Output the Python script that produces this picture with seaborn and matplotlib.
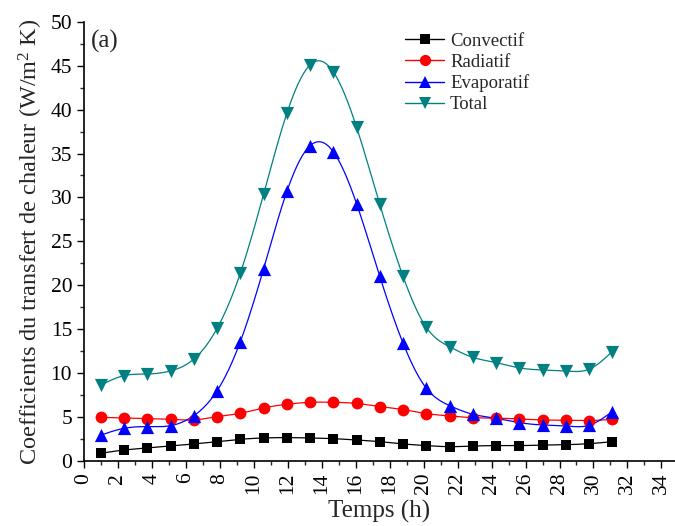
import numpy as np
import pandas as pd
import matplotlib
matplotlib.use("Agg")
import matplotlib.pyplot as plt
from matplotlib.lines import Line2D
from matplotlib.ticker import MultipleLocator
import seaborn as sns

# Hourly heat-transfer coefficients (W/m^2 K)
hours = [1.00, 2.37, 3.74, 5.10, 6.47, 7.84, 9.21, 10.58, 11.95, 13.32, 14.68, 16.05,
         17.42, 18.79, 20.16, 21.53, 22.89, 24.26, 25.63, 27.00, 28.37, 29.74, 31.10]
convectif = [0.88, 1.25, 1.48, 1.71, 1.94, 2.20, 2.47, 2.62, 2.66, 2.62, 2.54, 2.39,
             2.20, 1.94, 1.75, 1.63, 1.70, 1.75, 1.75, 1.82, 1.86, 1.97, 2.20]
radiatif = [4.97, 4.90, 4.82, 4.74, 4.67, 5.05, 5.43, 6.04, 6.45, 6.68, 6.68, 6.55,
            6.20, 5.85, 5.39, 5.13, 4.93, 4.88, 4.78, 4.67, 4.63, 4.60, 4.74]
evaporatif = [2.95, 3.72, 3.91, 4.02, 5.16, 8.00, 13.6, 21.9, 30.7, 35.9, 35.2, 29.3,
              21.0, 13.4, 8.28, 6.30, 5.32, 4.86, 4.37, 4.10, 3.99, 4.06, 5.62]
total = [8.65, 9.72, 9.90, 10.25, 11.6, 15.1, 21.4, 30.4, 39.6, 45.1, 44.3, 38.0,
         29.2, 21.0, 15.2, 13.0, 11.8, 11.2, 10.6, 10.36, 10.25, 10.44, 12.45]

series_names = ["Convectif", "Radiatif", "Evaporatif", "Total"]
series_values = [convectif, radiatif, evaporatif, total]
colors = {"Convectif": "#000000", "Radiatif": "#FF0000",
          "Evaporatif": "#0000FF", "Total": "#008080"}
markers = {"Convectif": "s", "Radiatif": "o", "Evaporatif": "^", "Total": "v"}
msizes = {"Convectif": 7.5, "Radiatif": 8.5, "Evaporatif": 9.5, "Total": 9.5}


def natural_spline(x, y, n=400):
    """Natural cubic spline through (x, y), sampled on n points."""
    x = np.asarray(x, float)
    y = np.asarray(y, float)
    k = len(x)
    h = np.diff(x)
    A = np.zeros((k, k))
    b = np.zeros(k)
    A[0, 0] = A[-1, -1] = 1.0
    for i in range(1, k - 1):
        A[i, i - 1] = h[i - 1]
        A[i, i] = 2 * (h[i - 1] + h[i])
        A[i, i + 1] = h[i]
        b[i] = 6 * ((y[i + 1] - y[i]) / h[i] - (y[i] - y[i - 1]) / h[i - 1])
    M = np.linalg.solve(A, b)
    xs = np.linspace(x[0], x[-1], n)
    idx = np.clip(np.searchsorted(x, xs) - 1, 0, k - 2)
    x0, x1 = x[idx], x[idx + 1]
    hh = x1 - x0
    t0 = x1 - xs
    t1 = xs - x0
    ys = (M[idx] * t0 ** 3 / (6 * hh) + M[idx + 1] * t1 ** 3 / (6 * hh)
          + (y[idx] / hh - M[idx] * hh / 6) * t0
          + (y[idx + 1] / hh - M[idx + 1] * hh / 6) * t1)
    return xs, ys


points = pd.DataFrame({
    "Temps": np.tile(hours, len(series_names)),
    "Coef": np.concatenate(series_values),
    "Mode": np.repeat(series_names, len(hours)),
})
curves = []
for name, vals in zip(series_names, series_values):
    xs, ys = natural_spline(hours, vals)
    curves.append(pd.DataFrame({"Temps": xs, "Coef": ys, "Mode": name}))
curves = pd.concat(curves, ignore_index=True)

sns.set_style("ticks")
plt.rcParams["font.family"] = ["Liberation Serif", "DejaVu Serif"]
plt.rcParams["mathtext.fontset"] = "custom"
plt.rcParams["mathtext.rm"] = "Liberation Serif"
plt.rcParams["mathtext.it"] = "Liberation Serif:italic"

fig = plt.figure(figsize=(6.75, 5.26), dpi=100)
ax = fig.add_axes([0.1244, 0.1236, 0.8756, 0.8351])

sns.lineplot(data=curves, x="Temps", y="Coef", hue="Mode", palette=colors,
             linewidth=0.9, sort=False, estimator=None, legend=False, ax=ax)
for name in series_names:
    sub = points[points["Mode"] == name]
    sns.scatterplot(data=sub, x="Temps", y="Coef", color=colors[name],
                    marker=markers[name], s=msizes[name] ** 2, linewidth=0,
                    legend=False, ax=ax, zorder=3)

ax.set_xlim(0, 34.8)
ax.set_ylim(0, 50)
ax.xaxis.set_major_locator(MultipleLocator(2))
ax.xaxis.set_minor_locator(MultipleLocator(1))
ax.yaxis.set_major_locator(MultipleLocator(5))
ax.yaxis.set_minor_locator(MultipleLocator(2.5))
ax.tick_params(which="major", direction="out", length=5, width=1,
               labelsize=15.5, colors="black")
ax.tick_params(which="minor", direction="out", length=3, width=1)
for lab in ax.get_xticklabels():
    lab.set_rotation(90)
for side in ("top", "right"):
    ax.spines[side].set_visible(False)
for side in ("left", "bottom"):
    ax.spines[side].set_linewidth(1.2)
    ax.spines[side].set_color("black")

ax.set_xlabel("Temps (h)", fontsize=18, labelpad=4)
ax.set_ylabel("Coefficients du transfert de chaleur (W/m$^2$ K)", fontsize=17.5, labelpad=4)
ax.text(0.012, 0.982, "(a)", transform=ax.transAxes, fontsize=18, va="top", ha="left")

handles = [Line2D([0], [0], color=colors[n], marker=markers[n], markersize=msizes[n] * 0.95,
                  markeredgewidth=0, linewidth=1.0) for n in series_names]
fig.legend(handles, series_names, loc="upper left", bbox_to_anchor=(0.6, 0.938),
           frameon=False, fontsize=13.5, handlelength=2.1, handletextpad=0.3,
           labelspacing=0.2, borderpad=0, borderaxespad=0, numpoints=1)

fig.savefig("out.png", dpi=100)
